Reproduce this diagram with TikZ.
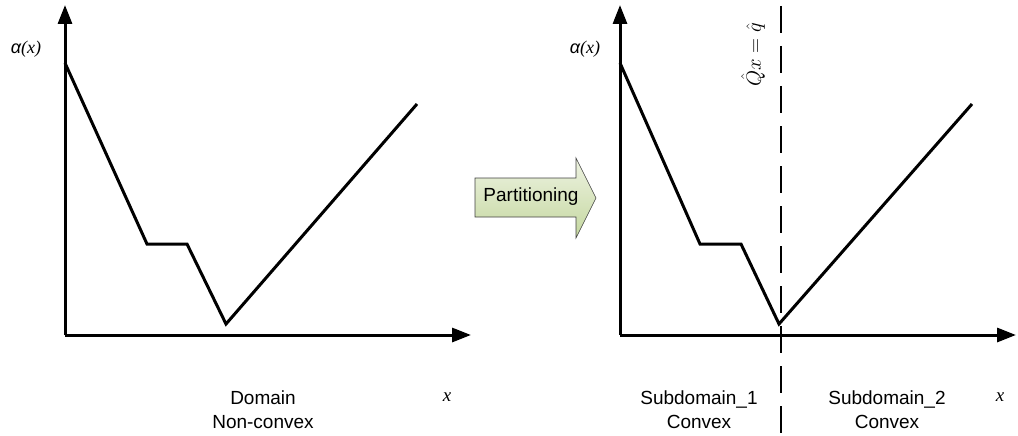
\documentclass[tikz,border=0pt]{standalone}
\usepackage{fontspec}
\setmainfont{Liberation Serif}
\setsansfont{Liberation Sans}
\usetikzlibrary{arrows.meta}
\definecolor{arrowtop}{HTML}{EEF3E2}
\definecolor{arrowbot}{HTML}{C4D79F}
\begin{document}
\begin{tikzpicture}[x=1pt,y=-1pt,
  axis/.style={line width=3pt,-{Triangle[length=19pt,width=14pt]}},
  curve/.style={line width=3pt,line join=miter},
  lbl/.style={font=\sffamily\fontsize{19}{24}\selectfont,align=center,inner sep=0pt},
  xlbl/.style={font=\itshape\fontsize{19}{22}\selectfont,inner sep=0pt},
  ylbl/.style={font=\fontsize{18}{20}\selectfont,inner sep=0pt}]
\useasboundingbox (0,0) rectangle (1018,436);
% left panel
\coordinate (lo) at (65,335);
\coordinate (ly) at (65,5);
\coordinate (lx) at (471,335);
\draw[axis] (lo) -- (ly);
\draw[axis] (lo) -- (lx);
\coordinate (a1) at (65,63);
\coordinate (a2) at (147,244);
\coordinate (a3) at (187,244);
\coordinate (a4) at (226,324);
\coordinate (a5) at (417,104);
\draw[curve] (a1) -- (a2) -- (a3) -- (a4) -- (a5);
\node[ylbl] (lal) at (26,49) {{\sffamily\itshape α}\textit{(x)}};
\node[xlbl] (lxl) at (447,397) {x};
\node[lbl] (dom) at (263,410) {Domain\\Non-convex};
% right panel
\coordinate (ro) at (620,335);
\coordinate (ry) at (620,5);
\coordinate (rx) at (1016,335);
\draw[axis] (ro) -- (ry);
\draw[axis] (ro) -- (rx);
\coordinate (b1) at (620,63);
\coordinate (b2) at (700,244);
\coordinate (b3) at (741,244);
\coordinate (b4) at (779,324);
\coordinate (b5) at (972,104);
\draw[curve] (b1) -- (b2) -- (b3) -- (b4) -- (b5);
\coordinate (dtop) at (781,6);
\coordinate (dbot) at (781,436);
\draw[line width=1.8pt,dash pattern=on 27pt off 13pt] (dtop) -- (dbot);
\node[ylbl] (ral) at (585,49) {{\sffamily\itshape α}\textit{(x)}};
\node[xlbl] (rxl) at (1000,397) {x};
\node[lbl] (sd1) at (699,410) {Subdomain\_1\\Convex};
\node[lbl] (sd2) at (887,410) {Subdomain\_2\\Convex};
\node[rotate=90,inner sep=0pt,font=\fontsize{20}{22}\selectfont] (eq) at (753,55) {$\hat{Q}x = \hat{q}$};
% partitioning arrow
\path[draw=black!75,line width=0.6pt,top color=arrowtop,bottom color=arrowbot,line join=miter]
  (475,178) -- (576,178) -- (576,158) -- (596,198) -- (576,238) -- (576,217) -- (475,217) -- cycle;
\node[lbl] (ptxt) at (531,197) {Partitioning};
\end{tikzpicture}
\end{document}
